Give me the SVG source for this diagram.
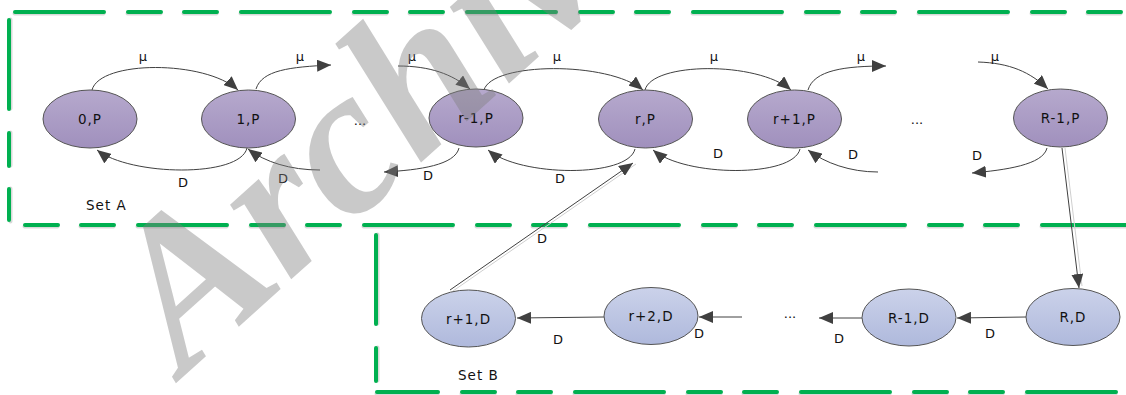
<svg xmlns="http://www.w3.org/2000/svg" width="1126" height="395" viewBox="0 0 1126 395">
  <defs>
    <linearGradient id="gP" x1="0" y1="0" x2="0" y2="1">
      <stop offset="0" stop-color="#B6A9CD"/>
      <stop offset="1" stop-color="#A090BD"/>
    </linearGradient>
    <linearGradient id="gD" x1="0" y1="0" x2="0" y2="1">
      <stop offset="0" stop-color="#CBD2EA"/>
      <stop offset="1" stop-color="#AFB9DC"/>
    </linearGradient>
    <marker id="ah" markerUnits="userSpaceOnUse" markerWidth="16" markerHeight="12" refX="14" refY="6" orient="auto">
      <path d="M0,0 L14,6 L0,12 Z" fill="#404040"/>
    </marker>
  </defs>
  <style>
    .box { fill: none; stroke: #00B050; stroke-width: 4; stroke-linecap: round; stroke-dasharray: 89 24 33 23 33 24; }
    .boxs { fill: none; stroke: #d9d9d9; stroke-width: 4; stroke-linecap: round; stroke-dasharray: 89 24 33 23 33 24; }
    .np { fill: url(#gP); stroke: #555; stroke-width: 1; }
    .nd { fill: url(#gD); stroke: #555; stroke-width: 1; }
    .lbl { font-family: "DejaVu Sans", sans-serif; font-size: 13.5px; letter-spacing: 1px; fill: #111; text-anchor: middle; }
    .e { fill: none; stroke: #404040; stroke-width: 1; marker-end: url(#ah); }
    .sh { fill: none; stroke: #cfcfcf; stroke-width: 1; }
    .t { font-family: "DejaVu Sans", sans-serif; font-size: 13px; fill: #111; text-anchor: middle; }
    .set { font-family: "DejaVu Sans", sans-serif; font-size: 13.5px; letter-spacing: 1px; fill: #111; }
  </style>

  <!-- dashed set outlines (shadow, then green) -->
  <g id="sets">
    <path class="boxs" d="M14.5,13.5 H1127"/>
    <path class="boxs" d="M10.5,19.5 V222"/>
    <path class="boxs" d="M24.5,226.5 H1127" style="stroke-dasharray:33 23 33 24 89 24"/>
    <path class="boxs" d="M377.5,234.5 V388"/>
    <path class="boxs" d="M376.5,393.5 H1127" style="stroke-dashoffset:28"/>
    <path class="box" d="M15,12 H1126"/>
    <path class="box" d="M9,20 V220"/>
    <path class="box" d="M25,225 H1126" style="stroke-dasharray:33 23 33 24 89 24"/>
    <path class="box" d="M376,235 V386"/>
    <path class="box" d="M377,392 H1126" style="stroke-dashoffset:28"/>
    <text class="set" x="86" y="210">Set A</text>
    <text class="set" x="458" y="380">Set B</text>
  </g>

  <!-- connectors -->
  <g id="connectors">
    <!-- service transitions (mu) -->
    <path class="e" d="M92,90 C100,60 205,60 238,90"/>
    <path class="e" d="M256,89 C262,70 290,67 331,65"/>
    <path class="e" d="M398,66 C430,66 452,74 470,89"/>
    <path class="e" d="M484,90 C492,62 608,61 643,90"/>
    <path class="e" d="M645,90 C652,62 757,61 791,90"/>
    <path class="e" d="M808,90 C814,70 845,66 886,66"/>
    <path class="e" d="M978,62 C1010,63 1030,72 1048,89"/>
    <!-- departure transitions (D) in set A -->
    <path class="e" d="M247,148 C240,178 130,176 97,150"/>
    <path class="e" d="M320,170 C290,170 265,162 248,149"/>
    <path class="e" d="M459,148 C455,165 420,170 384,172"/>
    <path class="e" d="M635,149 C628,178 520,177 488,150"/>
    <path class="e" d="M800,149 C793,178 685,177 653,150"/>
    <path class="e" d="M878,172 C850,172 825,163 808,150"/>
    <path class="e" d="M1047,148 C1043,165 1005,170 972,173"/>
    <!-- links between the sets -->
    <path class="sh" d="M453,291 L636,164"/>
    <path class="e" d="M450,290 L633,163"/>
    <path class="sh" d="M1065,148 L1082,286"/>
    <path class="e" d="M1062,148 L1079,288"/>
    <!-- departure transitions in set B -->
    <path class="e" d="M604,317 L517,318"/>
    <path class="e" d="M742,317 L699,317"/>
    <path class="e" d="M862,318 L819,318"/>
    <path class="e" d="M1026,317 L957,318"/>

    <g class="t">
      <text x="143" y="61">μ</text>
      <text x="300" y="61">μ</text>
      <text x="412" y="61">μ</text>
      <text x="557" y="61">μ</text>
      <text x="714" y="61">μ</text>
      <text x="861" y="61">μ</text>
      <text x="995" y="61">μ</text>
      <text x="183" y="187">D</text>
      <text x="283" y="183">D</text>
      <text x="428" y="180">D</text>
      <text x="560" y="183">D</text>
      <text x="718" y="158">D</text>
      <text x="853" y="159">D</text>
      <text x="977" y="160">D</text>
      <text x="542" y="243">D</text>
      <text x="558" y="344">D</text>
      <text x="699" y="338">D</text>
      <text x="839" y="343">D</text>
      <text x="990" y="338">D</text>
      <text x="360" y="125">...</text>
      <text x="917" y="124">...</text>
      <text x="790" y="318">...</text>
    </g>
  </g>

  <!-- set A states -->
  <g id="n0P"><ellipse class="np" cx="90" cy="119" rx="47" ry="29"/><text class="lbl" x="90" y="124">0,P</text></g>
  <g id="n1P"><ellipse class="np" cx="248.5" cy="119" rx="47" ry="29"/><text class="lbl" x="248.5" y="124">1,P</text></g>
  <g id="nrm1P"><ellipse class="np" cx="476" cy="118" rx="47" ry="29"/><text class="lbl" x="476" y="123">r-1,P</text></g>
  <g id="nrP"><ellipse class="np" cx="645.5" cy="119" rx="47" ry="29"/><text class="lbl" x="645.5" y="124">r,P</text></g>
  <g id="nrp1P"><ellipse class="np" cx="794.5" cy="119" rx="47" ry="29"/><text class="lbl" x="794.5" y="124">r+1,P</text></g>
  <g id="nRm1P"><ellipse class="np" cx="1060.5" cy="118" rx="47" ry="29"/><text class="lbl" x="1060.5" y="123">R-1,P</text></g>

  <!-- set B states -->
  <g id="nrp1D"><ellipse class="nd" cx="468.5" cy="318.5" rx="47" ry="28.5"/><text class="lbl" x="468.5" y="323.5">r+1,D</text></g>
  <g id="nrp2D"><ellipse class="nd" cx="651" cy="316" rx="47" ry="28.5"/><text class="lbl" x="651" y="321">r+2,D</text></g>
  <g id="nRm1D"><ellipse class="nd" cx="909" cy="317.5" rx="47" ry="28.5"/><text class="lbl" x="909" y="322.5">R-1,D</text></g>
  <g id="nRD"><ellipse class="nd" cx="1073" cy="317" rx="47" ry="28.5"/><text class="lbl" x="1073" y="322">R,D</text></g>

  <!-- watermark -->
  <text x="184" y="376" transform="rotate(-42 184 376)" font-family="Liberation Serif, serif" font-weight="bold" font-style="italic" font-size="210" fill="#7f7f7f" fill-opacity="0.42">Archive</text>
</svg>
